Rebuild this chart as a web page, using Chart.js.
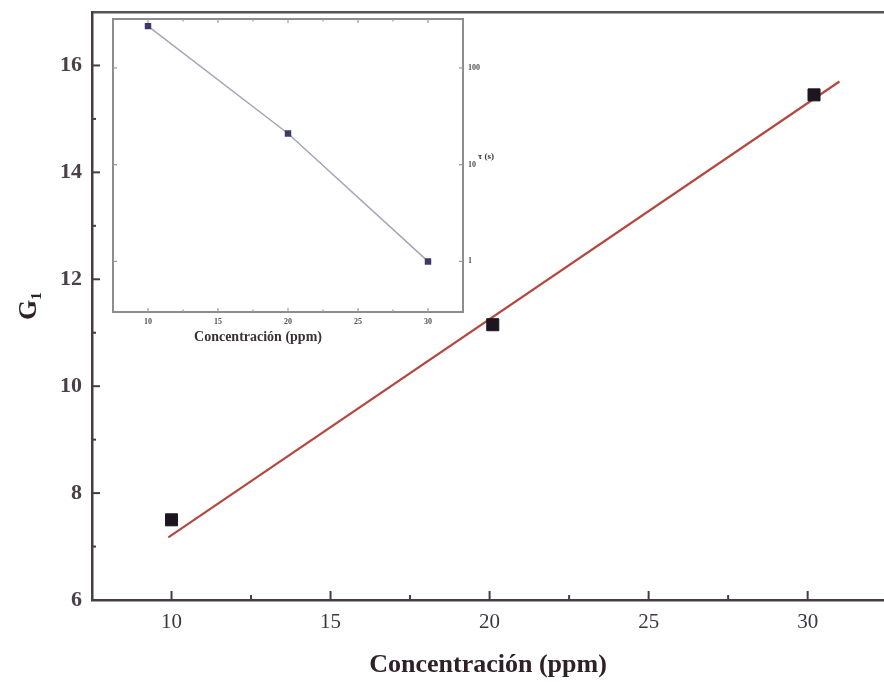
<!DOCTYPE html>
<html><head><meta charset="utf-8">
<script src="https://cdn.jsdelivr.net/npm/chart.js@4.4.0/dist/chart.umd.min.js"></script>
<style>
html,body{margin:0;padding:0;background:#fff;}
#wrap{position:relative;width:884px;height:686px;overflow:hidden;}
#main{position:absolute;left:0;top:0;}
#inset{position:absolute;left:100px;top:10px;}
</style></head><body>
<div id="wrap"><canvas id="main" width="884" height="686"></canvas><canvas id="inset" width="400" height="345"></canvas></div>
<script>
// ---- main chart data ----
const concentration = [10, 20.1, 30.2];
const g1Values = [7.5, 11.15, 15.45];
const fitX = [9.9, 31.0];
const fitY = [7.17, 15.7];
const xTickValues = [10, 15, 20, 25, 30];
const xMinorValues = [12.5, 17.5, 22.5, 27.5];
const yTickValues = [6, 8, 10, 12, 14, 16];
const yMinorValues = [7, 9, 11, 13, 15];
const xTitle = 'Concentración (ppm)';
const yTitle = 'G₁';
// ---- inset data ----
const insetConc = [10, 20, 30];
const insetTau = [270, 21, 1.0];
const insetXTicks = [10, 15, 20, 25, 30];
const insetXMinor = [12.5, 17.5, 22.5, 27.5];
const insetYTicks = [1, 10, 100];
const insetXTitle = 'Concentración (ppm)';
const insetYTitle = 'τ (s)';

function noPad(s) { s.paddingLeft = 0; s.paddingRight = 0; s.paddingTop = 0; s.paddingBottom = 0; }

function tickPlugin(id, color, width, marks) {
  return {
    id: id,
    afterDraw(chart) {
      const ctx = chart.ctx, a = chart.chartArea;
      ctx.save();
      ctx.strokeStyle = color; ctx.lineWidth = width;
      marks.forEach(m => {
        const sc = chart.scales[m.scale];
        m.values.forEach(v => {
          const p = sc.getPixelForValue(v);
          ctx.beginPath();
          m.sides.forEach(side => {
            if (side === 'bottom') { ctx.moveTo(p, a.bottom); ctx.lineTo(p, a.bottom - m.len); }
            if (side === 'top') { ctx.moveTo(p, a.top); ctx.lineTo(p, a.top + m.len); }
            if (side === 'left') { ctx.moveTo(a.left, p); ctx.lineTo(a.left + m.len, p); }
            if (side === 'right') { ctx.moveTo(a.right, p); ctx.lineTo(a.right - m.len, p); }
          });
          ctx.stroke();
        });
      });
      ctx.restore();
    }
  };
}

const axisColor = '#463c44';
const serif = 'Liberation Serif, Times New Roman, serif';

new Chart(document.getElementById('main'), {
  type: 'scatter',
  data: {
    datasets: [
      {
        type: 'line',
        data: fitX.map((x, i) => ({ x: x, y: fitY[i] })),
        borderColor: '#b4483f', borderWidth: 2.2, pointRadius: 0, fill: false, order: 2
      },
      {
        data: concentration.map((x, i) => ({ x: x, y: g1Values[i] })),
        pointStyle: 'rect', pointRadius: 8.5, borderWidth: 1,
        backgroundColor: '#1d1620', borderColor: '#1d1620', order: 1
      }
    ]
  },
  options: {
    responsive: false, animation: false, devicePixelRatio: 1,
    layout: { autoPadding: false, padding: { top: 12, right: 0, left: 0, bottom: 0 } },
    plugins: { legend: { display: false }, tooltip: { enabled: false } },
    scales: {
      x: {
        type: 'linear', min: 7.5, max: 32.4,
        afterBuildTicks: s => { s.ticks = xTickValues.map(v => ({ value: v })); },
        grid: { display: false, drawTicks: false },
        border: { display: true, color: axisColor, width: 2.5 },
        ticks: { padding: 10, color: '#3d3540', font: { family: serif, size: 21 } },
        title: { display: true, text: xTitle, color: '#2e2228',
          font: { family: serif, size: 26, weight: 'bold' }, padding: { top: 0, bottom: 5 } },
        afterFit: s => { s.height = 86; noPad(s); }
      },
      xTop: {
        type: 'linear', position: 'top', min: 7.5, max: 32.4,
        grid: { display: false, drawTicks: false },
        border: { display: true, color: '#5a5358', width: 2.5 },
        ticks: { display: false },
        afterFit: s => { s.height = 0; noPad(s); }
      },
      y: {
        type: 'linear', min: 6, max: 17,
        afterBuildTicks: s => { s.ticks = yTickValues.map(v => ({ value: v })); },
        grid: { display: false, drawTicks: false },
        border: { display: true, color: axisColor, width: 2.5 },
        ticks: { padding: 10, color: '#4a4048', font: { family: serif, size: 22, weight: 'bold' } },
        title: { display: true, text: yTitle, color: '#2e2228',
          font: { family: serif, size: 26, weight: 'bold' }, padding: { top: 14, bottom: 0 } },
        afterFit: s => { s.width = 92; noPad(s); }
      }
    }
  },
  plugins: [tickPlugin('mainTicks', axisColor, 2, [
    { scale: 'x', values: xTickValues, len: 9, sides: ['bottom'] },
    { scale: 'x', values: xMinorValues, len: 5, sides: ['bottom'] },
    { scale: 'y', values: yTickValues, len: 8, sides: ['left'] },
    { scale: 'y', values: yMinorValues, len: 4, sides: ['left'] }
  ])]
});

const insetText = {
  id: 'insetText',
  afterDraw(chart) {
    const ctx = chart.ctx;
    ctx.save();
    ctx.fillStyle = '#3a3038';
    ctx.font = 'bold 14px ' + serif;
    ctx.textAlign = 'center'; ctx.textBaseline = 'middle';
    ctx.fillText(insetXTitle, 158, 327);
    ctx.font = 'bold 9px ' + serif;
    ctx.textAlign = 'left';
    ctx.fillText(insetYTitle, 378, 147);
    ctx.restore();
  }
};

const insetAxis = '#8e8c90';
new Chart(document.getElementById('inset'), {
  type: 'scatter',
  data: {
    datasets: [{
      data: insetConc.map((x, i) => ({ x: x, y: insetTau[i] })),
      showLine: true, borderColor: '#a2a5bb', borderWidth: 1.5,
      pointStyle: 'rect', pointRadius: 3.5,
      pointBackgroundColor: '#3b3b66', pointBorderColor: '#3b3b66'
    }]
  },
  options: {
    responsive: false, animation: false, devicePixelRatio: 1,
    layout: { autoPadding: false, padding: { top: 9, left: 13, right: 0, bottom: 0 } },
    plugins: { legend: { display: false }, tooltip: { enabled: false } },
    scales: {
      x: {
        type: 'linear', min: 7.5, max: 32.5,
        afterBuildTicks: s => { s.ticks = insetXTicks.map(v => ({ value: v })); },
        grid: { display: false, drawTicks: false },
        border: { display: true, color: insetAxis, width: 2 },
        ticks: { padding: 5, color: '#555055', font: { family: serif, size: 8, weight: 'bold' } },
        afterFit: s => { s.height = 43; noPad(s); }
      },
      xTop: {
        type: 'linear', position: 'top', min: 7.5, max: 32.5,
        grid: { display: false, drawTicks: false },
        border: { display: true, color: insetAxis, width: 2 },
        ticks: { display: false },
        afterFit: s => { s.height = 0; noPad(s); }
      },
      y: {
        type: 'logarithmic', position: 'right', min: 0.3, max: 320,
        afterBuildTicks: s => { s.ticks = insetYTicks.map(v => ({ value: v })); },
        grid: { display: false, drawTicks: false },
        border: { display: true, color: insetAxis, width: 2 },
        ticks: { padding: 5, color: '#555055', font: { family: serif, size: 8, weight: 'bold' },
          callback: v => String(v) },
        afterFit: s => { s.width = 37; noPad(s); }
      },
      yLeft: {
        type: 'logarithmic', position: 'left', min: 0.3, max: 320,
        grid: { display: false, drawTicks: false },
        border: { display: true, color: insetAxis, width: 2 },
        ticks: { display: false },
        afterFit: s => { s.width = 0; noPad(s); }
      }
    }
  },
  plugins: [insetText, tickPlugin('insetTicks', '#9a989c', 1.2, [
    { scale: 'x', values: insetXTicks, len: 4, sides: ['bottom', 'top'] },
    { scale: 'x', values: insetXMinor, len: 2.5, sides: ['bottom', 'top'] },
    { scale: 'y', values: insetYTicks, len: 4, sides: ['left', 'right'] }
  ])]
});
</script>
</body></html>
